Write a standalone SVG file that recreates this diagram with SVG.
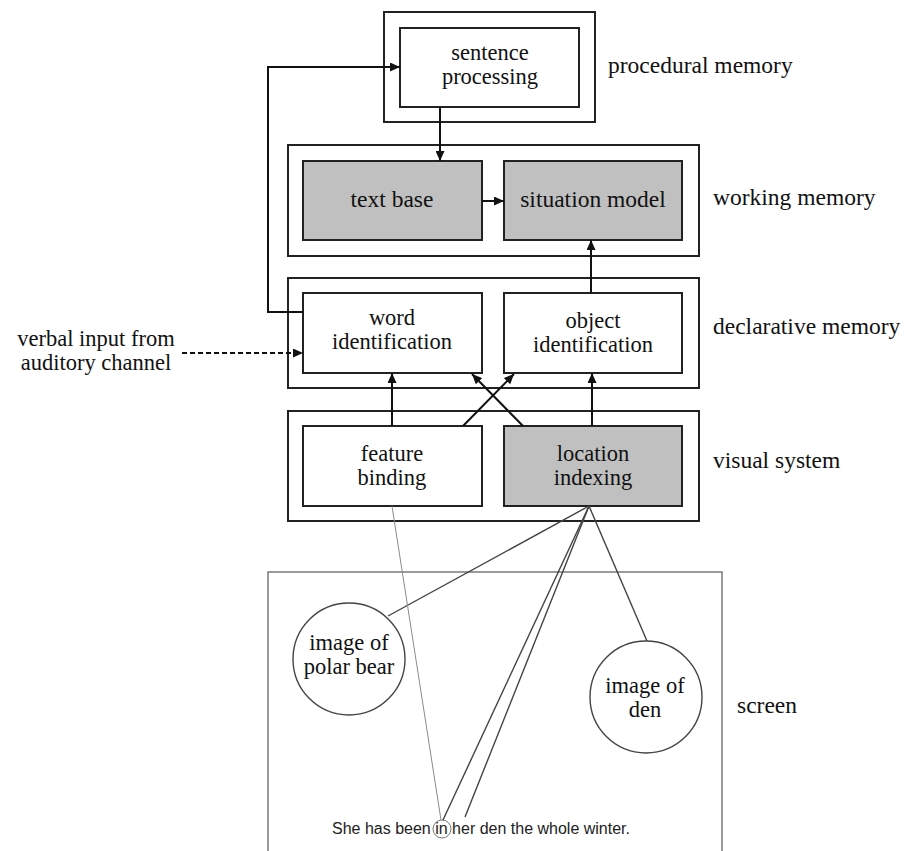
<svg xmlns="http://www.w3.org/2000/svg" width="904" height="851" viewBox="0 0 904 851">
  <style>
    .frame { fill: #ffffff; stroke: #222222; stroke-width: 2; }
    .box { fill: #ffffff; stroke: #222222; stroke-width: 2; }
    .shade { fill: #c0c0c0; stroke: #222222; stroke-width: 2; }
    .lbl { font-family: 'Liberation Serif', 'Times New Roman', serif; font-size: 22.5px; fill: #111111; }
    .big { font-size: 23.5px; }
    .mid { text-anchor: middle; }
    .arrow { fill: none; stroke: #111111; stroke-width: 2; }
    .dash { fill: none; stroke: #111111; stroke-width: 2; stroke-dasharray: 5 3; }
    .ray { fill: none; stroke: #444444; stroke-width: 1.4; }
    .faint { fill: none; stroke: #8a8a8a; stroke-width: 1; }
    .screen { fill: none; stroke: #666666; stroke-width: 1.3; }
    .disc { fill: #ffffff; stroke: #444444; stroke-width: 1.4; }
    .sent { font-family: 'Liberation Sans', Arial, sans-serif; font-size: 16px; fill: #222222; }
  </style>
  <defs>
    <marker id="head" markerUnits="userSpaceOnUse" markerWidth="11" markerHeight="9" refX="10" refY="4.5" orient="auto">
      <path d="M0,0 L10,4.5 L0,9 z" fill="#111111"/>
    </marker>
  </defs>

  <rect width="904" height="851" fill="#ffffff"/>

  <!-- layer frames -->
  <g id="procedural-memory">
    <rect class="frame" x="384" y="12" width="211" height="110"/>
    <text class="lbl big" x="608" y="73">procedural memory</text>
  </g>
  <g id="working-memory">
    <rect class="frame" x="288" y="145" width="411" height="111"/>
    <text class="lbl big" x="713" y="205">working memory</text>
  </g>
  <g id="declarative-memory">
    <rect class="frame" x="288" y="278" width="411" height="110"/>
    <text class="lbl big" x="713" y="334">declarative memory</text>
  </g>
  <g id="visual-system">
    <rect class="frame" x="288" y="411" width="411" height="110"/>
    <text class="lbl big" x="713" y="468">visual system</text>
  </g>

  <!-- screen -->
  <g id="screen">
    <rect class="screen" x="268" y="572" width="454" height="300"/>
    <text class="lbl big" x="737" y="713">screen</text>
  </g>

  <!-- processing nodes -->
  <g id="sentence-processing">
    <rect class="box" x="400" y="28" width="179" height="79"/>
    <text class="lbl mid" x="490" y="60">sentence</text>
    <text class="lbl mid" x="490" y="84">processing</text>
  </g>
  <g id="text-base">
    <rect class="shade" x="303" y="161" width="179" height="79"/>
    <text class="lbl big mid" x="392" y="207">text base</text>
  </g>
  <g id="situation-model">
    <rect class="shade" x="504" y="161" width="178" height="79"/>
    <text class="lbl big mid" x="593" y="207">situation model</text>
  </g>
  <g id="word-identification">
    <rect class="box" x="303" y="293" width="179" height="80"/>
    <text class="lbl mid" x="392" y="325">word</text>
    <text class="lbl mid" x="392" y="349">identification</text>
  </g>
  <g id="object-identification">
    <rect class="box" x="504" y="293" width="178" height="80"/>
    <text class="lbl mid" x="593" y="328">object</text>
    <text class="lbl mid" x="593" y="352">identification</text>
  </g>
  <g id="feature-binding">
    <rect class="box" x="303" y="426" width="179" height="80"/>
    <text class="lbl mid" x="392" y="461">feature</text>
    <text class="lbl mid" x="392" y="485">binding</text>
  </g>
  <g id="location-indexing">
    <rect class="shade" x="504" y="426" width="178" height="80"/>
    <text class="lbl mid" x="593" y="461">location</text>
    <text class="lbl mid" x="593" y="485">indexing</text>
  </g>

  <!-- external input label -->
  <g id="verbal-input">
    <text class="lbl mid" x="96" y="346">verbal input from</text>
    <text class="lbl mid" x="96" y="370">auditory channel</text>
  </g>

  <!-- screen contents -->
  <g id="polar-bear">
    <circle class="disc" cx="349" cy="659" r="56"/>
    <text class="lbl mid" x="349" y="650">image of</text>
    <text class="lbl mid" x="349" y="674">polar bear</text>
  </g>
  <g id="den">
    <circle class="disc" cx="646" cy="697" r="56"/>
    <text class="lbl mid" x="645" y="693">image of</text>
    <text class="lbl mid" x="645" y="717">den</text>
  </g>
  <g id="sentence">
    <text class="sent" x="332" y="834">She has been in her den the whole winter.</text>
    <circle fill="none" stroke="#777777" stroke-width="1" cx="442" cy="829" r="9"/>
  </g>

  <!-- connectors -->
  <g id="connectors">
    <line class="arrow" x1="440" y1="107" x2="440" y2="161" marker-end="url(#head)"/>
    <line class="arrow" x1="482" y1="201" x2="504" y2="201" marker-end="url(#head)"/>
    <line class="arrow" x1="591" y1="293" x2="591" y2="240" marker-end="url(#head)"/>
    <path class="arrow" d="M303,312 H268 V67 H400" marker-end="url(#head)"/>
    <path class="dash" d="M182,353 H303" marker-end="url(#head)"/>
    <line class="arrow" x1="392" y1="426" x2="392" y2="373" marker-end="url(#head)"/>
    <line class="arrow" x1="463" y1="426" x2="514" y2="374" marker-end="url(#head)"/>
    <line class="arrow" x1="523" y1="426" x2="472" y2="374" marker-end="url(#head)"/>
    <line class="arrow" x1="592" y1="426" x2="592" y2="373" marker-end="url(#head)"/>

    <line class="ray" x1="589" y1="506" x2="388" y2="616"/>
    <line class="ray" x1="589" y1="506" x2="647" y2="641"/>
    <line class="ray" x1="589" y1="506" x2="443" y2="820"/>
    <line class="ray" x1="589" y1="506" x2="465" y2="817"/>
    <line class="faint" x1="392" y1="506" x2="441" y2="820"/>
  </g>
</svg>
